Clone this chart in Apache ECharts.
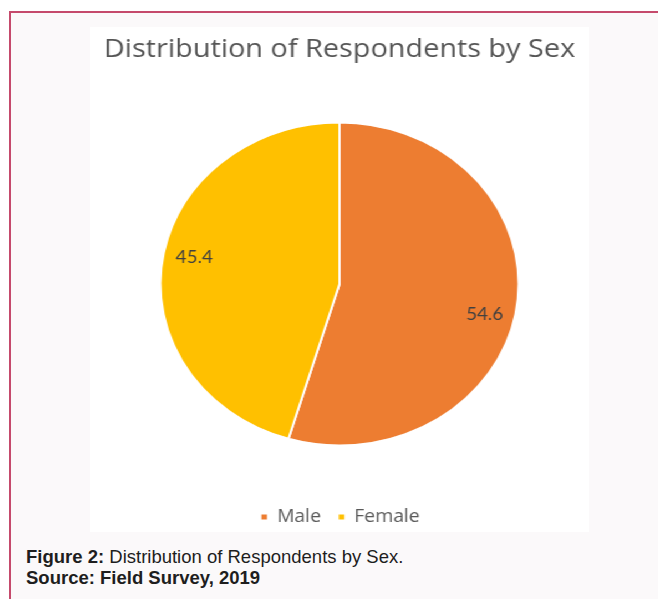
<!DOCTYPE html>
<html>
<head>
<meta charset="utf-8">
<script src="https://cdn.jsdelivr.net/npm/echarts@6/dist/echarts.min.js"></script>
<style>
  html, body { margin: 0; padding: 0; background: #ffffff; width: 658px; height: 599px; overflow: hidden; }
  #frame {
    position: absolute; left: 9px; top: 11px; width: 700px; height: 700px;
    border: 2px solid #c54a6c; background: #fbf9fa;
  }
  #chart {
    position: absolute; left: 90px; top: 27px; width: 450px; height: 505px;
    background: #ffffff; transform: scaleX(1.1089); transform-origin: 0 0;
  }
  #caption {
    position: absolute; left: 26px; top: 546px;
    font-family: "Liberation Sans", Arial, sans-serif; font-size: 18.5px; line-height: 21px; color: #1e1e1e;
  }
  #caption b { font-weight: bold; }
</style>
</head>
<body>
<div id="frame"></div>
<div id="chart"></div>
<div id="caption"><b>Figure 2:</b> Distribution of Respondents by Sex.<br><b>Source: Field Survey, 2019</b></div>
<script>
// Respondents by sex, percent
const categories = ['Male', 'Female'];
const shares = [54.6, 45.4];
const sliceColors = ['#ED7D31', '#FFC000'];

const pieData = categories.map((name, i) => ({ name: name, value: shares[i], itemStyle: { color: sliceColors[i] } }));

const chart = echarts.init(document.getElementById('chart'), null, { renderer: 'canvas' });
chart.setOption({
  animation: false,
  title: {
    text: 'Distribution of Respondents by Sex',
    left: 'center',
    top: 5,
    textStyle: { fontFamily: 'Open Sans', fontSize: 26, fontWeight: 'normal', color: '#555555' }
  },
  legend: {
    data: categories,
    left: 'center',
    top: 476,
    icon: 'rect',
    itemWidth: 7,
    itemHeight: 7,
    itemGap: 14,
    selectedMode: false,
    textStyle: { fontFamily: 'Open Sans', fontSize: 17.5, color: '#595959', padding: [0, 0, 0, 3] }
  },
  series: [
    {
      type: 'pie',
      center: [225, 257],
      radius: 161.5,
      startAngle: 90,
      clockwise: true,
      data: pieData,
      label: { show: false },
      labelLine: { show: false },
      itemStyle: { borderColor: '#ffffff', borderWidth: 2 },
      emphasis: { disabled: true },
      silent: true
    },
    {
      // value labels placed on a transparent ring, out toward the rim
      type: 'pie',
      center: [225, 259],
      radius: [102, 160],
      startAngle: 86,
      clockwise: true,
      data: categories.map((name, i) => ({ name: name, value: shares[i] })),
      itemStyle: { color: 'rgba(0,0,0,0)' },
      label: {
        show: true,
        position: 'inside',
        formatter: '{c}',
        fontFamily: 'Lato',
        fontSize: 17,
        color: '#404040'
      },
      labelLine: { show: false },
      emphasis: { disabled: true },
      silent: true,
      z: 3
    }
  ]
});
</script>
</body>
</html>
